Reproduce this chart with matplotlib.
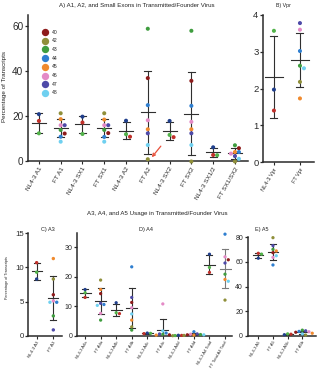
import numpy as np
import matplotlib
matplotlib.use("Agg")
import matplotlib.pyplot as plt
from matplotlib.lines import Line2D

plt.rcParams['font.family'] = ['Liberation Sans', 'DejaVu Sans']

W, H = 317, 373
DPI = 100

# ---------------- data ----------------
viruses = ['40', '42', '43', '44', '45', '46', '47', '48']
virus_colors = ['#8e1b1b', '#8f8f3a', '#3f9d3f', '#2f7fd0', '#f08a2e', '#e48ac6', '#4e4aa8', '#6fd0f0']
nl_colors = ['#203f8c', '#c0302a', '#52b34a']   # NL4-3 replicates

# Panel A
a_labels = ['NL4-3 A1', 'FT A1', 'NL4-3 SX1', 'FT SX1', 'NL4-3 A2', 'FT A2',
            'NL4-3 SX2', 'FT SX2', 'NL4-3 SX1/2', 'FT SX1/SX2']
nl_A1 = [21.0, 18.0, 12.5]
ft_A1 = [12.4, 21.4, 14.0, 11.0, 18.8, 16.1, 16.1, 8.8]
nl_SX1 = [19.9, 17.3, 12.2]
ft_SX1 = [12.6, 21.4, 14.0, 10.9, 18.6, 16.1, 16.1, 8.8]
nl_A2 = [18.1, 11.0, 12.1]
ft_A2 = [37.0, 1.0, 58.9, 25.0, 14.3, 18.3, 12.5, 7.3]
nl_SX2 = [18.0, 10.8, 11.8]
ft_SX2 = [35.8, 0.0, 58.0, 24.7, 14.3, 17.6, 12.5, 7.3]
nl_SX12 = [6.3, 2.9, 2.8]
ft_SX12 = [5.9, 0.0, 7.2, 4.2, 4.2, 3.5, 2.4, 1.2]

# Panel B
b_labels = ['NL4-3 Vpr', 'FT Vpr']
nl_Vpr = [1.97, 1.40, 3.57]
ft_Vpr = [np.nan, 2.18, 2.62, 3.02, 1.73, 3.60, 3.78, 2.55]

# Panel C
c_labels = ['NL4-3 A3', 'FT A3']
nl_A3 = [8.3, 10.7, 9.3]
ft_A3 = [6.0, 8.3, 2.9, 4.9, 11.3, 5.1, 0.85, 4.9]

# Panel D
d_labels = ['NL4-3 A4a', 'FT A4a', 'NL4-3 A4b', 'FT A4b', 'NL4-3 A4c', 'FT A4c',
            'NL4-3 A4d', 'FT A4d', 'NL4-3 A4 Total', 'FT Total A4 Total']
nl_A4a = [15.7, 13.0, 14.6]
ft_A4a = [14.3, 18.9, 5.3, 10.6, 15.7, 7.6, 11.0, 10.3]
nl_A4b = [11.2, 7.5, 7.8]
ft_A4b = [11.3, 3.0, 1.9, 23.4, 5.3, 9.5, 13.0, 7.4]
nl_A4c = [0.9, 0.7, 0.8]
ft_A4c = [0.3, 0.0, 0.5, 0.9, 0.2, 10.8, 0.6, 1.6]
nl_A4d = [0.15, 0.1, 0.05]
ft_A4d = [0.3, 0.1, 0.4, 1.35, 0.2, 0.5, 0.6, 0.3]
nl_A4T = [27.7, 21.5, 23.2]
ft_A4T = [25.8, 12.1, 20.9, 34.5, 19.1, 26.8, 24.7, 18.5]

# Panel E
e_labels = ['NL4-3 A5', 'FT A5', 'NL4-3 A5b', 'FT A5b']
nl_A5 = [63.0, 67.0, 66.3]
ft_A5 = [67.5, 79.7, 70.2, 57.5, 68.9, 63.7, 73.2, 65.0]
nl_A5b = [0.8, 1.2, 1.5]
ft_A5b = [2.8, 0.5, 4.5, 3.5, 2.0, 3.2, 4.0, 1.5]

# ---------------- figure ----------------
fig = plt.figure(figsize=(W / DPI, H / DPI), dpi=DPI)
fig.patch.set_facecolor('white')


def add_ax(l, t, r, b):
    return fig.add_axes([l / W, 1 - b / H, (r - l) / W, (b - t) / H])


def style(ax, xlim, ylim, yticks, labels, ytick_fs, xtick_fs):
    ax.set_xlim(*xlim)
    ax.set_ylim(*ylim)
    for s in ['top', 'right']:
        ax.spines[s].set_visible(False)
    for s in ['left', 'bottom']:
        ax.spines[s].set_linewidth(1.1)
        ax.spines[s].set_color('#2a2a2a')
    ax.set_yticks(yticks)
    ax.set_xticks(range(len(labels)))
    ax.set_xticklabels(labels, rotation=60, ha='right', va='top',
                       rotation_mode='anchor', fontsize=xtick_fs, color='#222222')
    ax.tick_params(axis='y', labelsize=ytick_fs, length=2.5, width=0.9, pad=0.8,
                   colors='#2a2a2a')
    ax.tick_params(axis='x', length=2.0, width=0.8, pad=1.5, colors='#2a2a2a')
    ax.patch.set_alpha(0)


def px_scale(ax):
    bb = ax.get_position()
    x0, x1 = ax.get_xlim()
    y0, y1 = ax.get_ylim()
    return bb.width * W / (x1 - x0), bb.height * H / (y1 - y0)


def swarm(vals, sx, sy, diam):
    order = np.argsort(vals)[::-1]
    placed = []
    offs = np.zeros(len(vals))
    for i in order:
        v = vals[i]
        if np.isnan(v):
            continue
        for k in [0, 1, -1, 2, -2, 3, -3]:
            ok = True
            for (ox, oy) in placed:
                if np.hypot((k * diam) - ox, (v - oy) * sy) < diam * 0.95:
                    ok = False
                    break
            if ok:
                offs[i] = k * diam
                placed.append((k * diam, v))
                break
    return offs / sx


def draw_group(ax, pos, vals, colors, s, diam, mean_hw, cap_hw, ecol='#2f2f2f'):
    vals = np.asarray(vals, dtype=float)
    sx, sy = px_scale(ax)
    m = np.nanmean(vals)
    sd = np.nanstd(vals, ddof=1)
    lw = 0.8
    ax.plot([pos, pos], [m - sd, m + sd], color=ecol, lw=lw, zorder=2, clip_on=True)
    ax.plot([pos - cap_hw / sx, pos + cap_hw / sx], [m + sd] * 2, color=ecol, lw=lw, zorder=2)
    ax.plot([pos - cap_hw / sx, pos + cap_hw / sx], [m - sd] * 2, color=ecol, lw=lw, zorder=2)
    ax.plot([pos - mean_hw / sx, pos + mean_hw / sx], [m] * 2, color=ecol, lw=lw, zorder=2)
    offs = swarm(vals, sx, sy, diam)
    for v, o, c in zip(vals, offs, colors):
        if np.isnan(v):
            continue
        ax.scatter([pos + o], [v], s=s, color=c, edgecolors='none', zorder=3, clip_on=False)
    return m, sd


# ---- Panel A ----
axA = add_ax(28, 15, 248, 161.5)
style(axA, (-0.5, 9.6), (0, 65), [0, 20, 40, 60], a_labels, 7.2, 4.6)
groupsA = [nl_A1, ft_A1, nl_SX1, ft_SX1, nl_A2, ft_A2, nl_SX2, ft_SX2, nl_SX12, ft_SX12]
statsA = []
for i, g in enumerate(groupsA):
    cols = nl_colors if i % 2 == 0 else virus_colors
    statsA.append(draw_group(axA, i, g, cols, s=8.5, diam=4.0, mean_hw=7.0, cap_hw=3.5))

# arrow pointing at the FT A2 lower SD bar
sxA, syA = px_scale(axA)
mA2, sdA2 = statsA[5]
axA.annotate('', xy=(5 + 4 / sxA, mA2 - sdA2 - 3 / syA), xytext=(6.5, 8),
             textcoords='offset points',
             arrowprops=dict(arrowstyle='->', color='#e8503a', lw=0.9,
                             shrinkA=0, shrinkB=0, mutation_scale=5))

# legend (manual)
for k, (name, col) in enumerate(zip(viruses, virus_colors)):
    y = 32 + k * 8.7
    fig.add_artist(Line2D([45 / W], [1 - y / H], marker='o', markersize=5.3,
                          color=col, markeredgecolor='none', linestyle='none',
                          transform=fig.transFigure))
    fig.text(51.5 / W, 1 - y / H, name, fontsize=3.6, va='center', ha='left', color='#222222')

fig.text(137 / W, 1 - 6 / H, 'A) A1, A2, and Small Exons in Transmitted/Founder Virus',
         fontsize=4.4, ha='center', va='center', color='#222222')
fig.text(5 / W, 1 - 86 / H, 'Percentage of Transcripts', rotation=90,
         fontsize=4.5, ha='center', va='center', color='#222222')

# ---- Panel B ----
axB = add_ax(263, 15, 314, 162)
style(axB, (-0.42, 1.54), (0, 4), [0, 1, 2, 3, 4], b_labels, 6.8, 4.0)
draw_group(axB, 0, nl_Vpr, nl_colors, s=8.5, diam=4.0, mean_hw=9.0, cap_hw=3.5)
draw_group(axB, 1, ft_Vpr, virus_colors, s=8.5, diam=4.0, mean_hw=9.0, cap_hw=3.5)
fig.text(283 / W, 1 - 5 / H, 'B) Vpr', fontsize=3.8, ha='center', va='center', color='#222222')

# ---- Bottom title ----
fig.text(157 / W, 1 - 213 / H, 'A3, A4, and A5 Usage in Transmitted/Founder Virus',
         fontsize=4.4, ha='center', va='center', color='#222222')

# ---- Panel C ----
axC = add_ax(28.3, 233.3, 62, 335.7)
style(axC, (-0.5, 1.52), (0, 15), [0, 5, 10, 15], c_labels, 5.6, 3.2)
draw_group(axC, 0, nl_A3, nl_colors, s=6, diam=3.4, mean_hw=5.0, cap_hw=3.0)
draw_group(axC, 1, ft_A3, virus_colors, s=6, diam=3.4, mean_hw=5.0, cap_hw=3.0)
fig.text(48 / W, 1 - 229 / H, 'C) A3', fontsize=4.0, ha='center', va='center', color='#222222')
fig.text(7 / W, 1 - 278 / H, 'Percentage of Transcripts', rotation=90,
         fontsize=2.7, ha='center', va='center', color='#222222')

# ---- Panel D ----
axD = add_ax(77.3, 232.7, 232, 335.7)
style(axD, (-0.5, 9.45), (0, 35), [0, 10, 20, 30], d_labels, 5.0, 3.0)
groupsD = [nl_A4a, ft_A4a, nl_A4b, ft_A4b, nl_A4c, ft_A4c, nl_A4d, ft_A4d, nl_A4T, ft_A4T]
for i, g in enumerate(groupsD):
    cols = nl_colors if i % 2 == 0 else virus_colors
    ecol = '#7a7a7a' if i == 9 else '#2f2f2f'
    draw_group(axD, i, g, cols, s=5.5, diam=3.3, mean_hw=5.5, cap_hw=3.0, ecol=ecol)
fig.text(146 / W, 1 - 229 / H, 'D) A4', fontsize=4.0, ha='center', va='center', color='#222222')

# ---- Panel E ----
axE = add_ax(247.7, 237.3, 316, 335.7)
style(axE, (-0.72, 3.93), (0, 80), [0, 20, 40, 60, 80], e_labels, 5.0, 3.0)
groupsE = [nl_A5, ft_A5, nl_A5b, ft_A5b]
for i, g in enumerate(groupsE):
    cols = nl_colors if i % 2 == 0 else virus_colors
    draw_group(axE, i, g, cols, s=5.5, diam=3.3, mean_hw=5.0, cap_hw=3.0)
fig.text(262 / W, 1 - 230 / H, 'E) A5', fontsize=4.0, ha='center', va='center', color='#222222')

fig.savefig('out.png', dpi=DPI, facecolor='white')
